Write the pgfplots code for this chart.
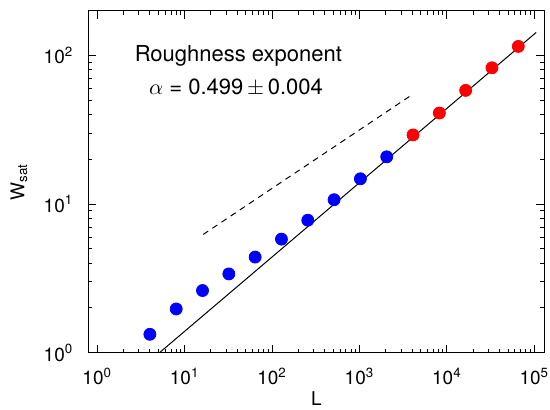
\documentclass[border=0pt]{standalone}
\usepackage{fontspec}
\setmainfont{TeX Gyre Heros}
\usepackage{pgfplots}
\pgfplotsset{compat=1.18}
\begin{document}
\begin{tikzpicture}
\begin{loglogaxis}[
  scale only axis, width=228pt, height=171pt,
  xmin=0.79, xmax=1.3e5, ymin=1, ymax=200,
  xtick={1,10,100,1000,10000,100000},
  xticklabels={10\textsuperscript{0},10\textsuperscript{1},10\textsuperscript{2},10\textsuperscript{3},10\textsuperscript{4},10\textsuperscript{5}},
  ytick={1,10,100},
  yticklabels={10\textsuperscript{0},10\textsuperscript{1},10\textsuperscript{2}},
  tick align=inside, major tick length=4pt, minor tick length=2pt,
  tick style={black, line width=0.5pt},
  axis line style={line width=0.6pt},
  ticklabel style={font=\fontsize{9.5}{11}\selectfont},
  xticklabel style={yshift=-4pt},
  yticklabel style={xshift=-4pt},
  xlabel={L}, ylabel={W\textsubscript{sat}},
  label style={font=\fontsize{9.5}{11}\selectfont},
  xlabel style={at={(axis description cs:0.5,-0.135)}, anchor=center},
  ylabel style={at={(axis description cs:-0.152,0.5)}, anchor=center},
]
\addplot[black, line width=0.5pt] coordinates {(5.15,1) (1.05e5,142.8)};
\addplot[black, line width=0.5pt, dash pattern=on 3pt off 2.5pt] coordinates {(16.3,6.25) (3955,54.2)};
\addplot[only marks, mark=*, mark size=3pt, mark options={draw=blue, fill=blue}] coordinates {
(4,1.33) (8,1.97) (16,2.62) (32,3.39) (64,4.40) (128,5.81) (256,7.79) (512,10.7) (1024,14.8) (2048,20.8)};
\addplot[only marks, mark=*, mark size=3pt, mark options={draw=red, fill=red}] coordinates {
(4096,29.2) (8192,41.0) (16384,58.2) (32768,82.6) (65536,115)};
\node[anchor=base, font=\fontsize{11}{13}\selectfont] at (rel axis cs:0.329,0.851) {Roughness exponent};
\node[anchor=base, font=\fontsize{11}{13}\selectfont] at (rel axis cs:0.324,0.756) {$\alpha$ = 0.499\,$\pm$\,0.004};
\end{loglogaxis}
\pgfresetboundingbox
\path ([shift={(-44.15pt,-28.15pt)}]current axis.south west) rectangle ([shift={(2.85pt,5.35pt)}]current axis.north east);
\end{tikzpicture}
\end{document}
